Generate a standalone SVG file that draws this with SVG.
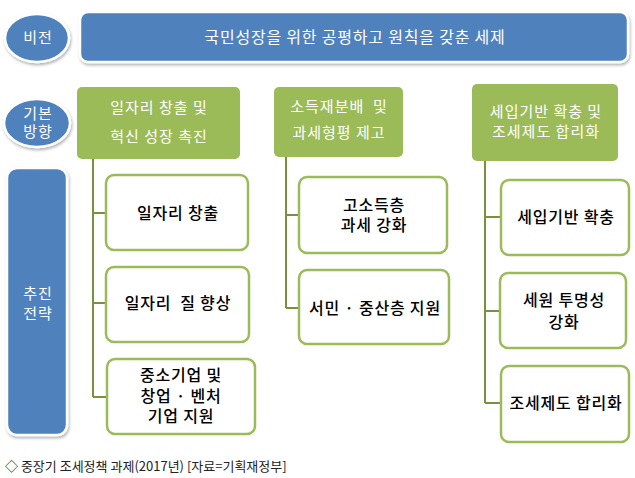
<svg xmlns="http://www.w3.org/2000/svg" width="635" height="478" viewBox="0 0 635 478">
<style>
text{font-family:"Noto Sans CJK KR","Noto Sans",sans-serif;text-anchor:middle}
.wt{fill:#fff;font-size:15px;letter-spacing:1px}
.bt{fill:#000;font-size:16px;font-weight:500;letter-spacing:0.8px}
.blue{fill:#4f81bd;stroke:#fff;stroke-width:2.5}
.green{fill:#9bbb59}
.box{fill:#fff;stroke:#9bbb59;stroke-width:2.5}
.ln{fill:none;stroke:#76923c;stroke-width:2}
</style>
<defs>
<filter id="sh" x="-10%" y="-10%" width="120%" height="130%">
<feDropShadow dx="1" dy="2" stdDeviation="1.5" flood-color="#000" flood-opacity="0.3"/>
</filter>
</defs>
<rect width="635" height="478" fill="#fff"/>
<g id="vision-label"><ellipse class="blue" cx="37" cy="38" rx="32" ry="24" filter="url(#sh)"/><text class="wt" x="38" y="43">비전</text></g>
<g id="vision"><rect class="blue" x="80" y="12" width="548" height="50" rx="8" filter="url(#sh)"/><text class="wt" x="355" y="43" style="font-size:16px;letter-spacing:0.8px">국민성장을 위한 공평하고 원칙을 갖춘 세제</text></g>
<g id="direction-label"><ellipse class="blue" cx="37" cy="123" rx="33" ry="24" filter="url(#sh)"/><text class="wt" x="38" y="119">기본</text><text class="wt" x="38" y="137">방향</text></g>
<g id="strategy-label"><rect class="blue" x="7" y="168" width="60" height="267" rx="10" filter="url(#sh)"/><text class="wt" x="38" y="299">추진</text><text class="wt" x="38" y="319">전략</text></g>
<g id="connectors">
<path class="ln" d="M93 159V397M93 213H106M93 303H106M93 397H107"/>
<path class="ln" d="M286 157V308M286 215H299M286 308H299"/>
<path class="ln" d="M485 161V403M485 217H501M485 311H500M485 403H501"/>
</g>
<g id="dir1"><rect class="green" x="77" y="87" width="163" height="72" rx="5"/><text class="wt" x="159" y="113">일자리 창출 및</text><text class="wt" x="159" y="142">혁신 성장 촉진</text></g>
<g id="dir2"><rect class="green" x="274" y="87" width="129" height="70" rx="5"/><text class="wt" x="339" y="112">소득재분배 &#160;및</text><text class="wt" x="339" y="138">과세형평 제고</text></g>
<g id="dir3"><rect class="green" x="472" y="84" width="146" height="77" rx="5"/><text class="wt" x="546" y="117">세입기반 확충 및</text><text class="wt" x="546" y="137">조세제도 합리화</text></g>
<g id="s1"><rect class="box" x="106" y="175" width="142" height="75" rx="8"/><text class="bt" x="178" y="219">일자리 창출</text></g>
<g id="s2"><rect class="box" x="106" y="267" width="143" height="75" rx="8"/><text class="bt" x="178" y="309">일자리 &#160;질 향상</text></g>
<g id="s3"><rect class="box" x="107" y="359" width="148" height="75" rx="8"/><text class="bt" x="181" y="381">중소기업 및</text><text class="bt" x="181" y="402">창업 · 벤처</text><text class="bt" x="181" y="422">기업 지원</text></g>
<g id="s4"><rect class="box" x="299" y="177" width="148" height="76" rx="8"/><text class="bt" x="374" y="211">고소득층</text><text class="bt" x="374" y="231">과세 강화</text></g>
<g id="s5"><rect class="box" x="299" y="270" width="150" height="74" rx="8"/><text class="bt" x="375" y="314">서민 · 중산층 지원</text></g>
<g id="s6"><rect class="box" x="501" y="180" width="128" height="75" rx="8"/><text class="bt" x="566" y="223">세입기반 확충</text></g>
<g id="s7"><rect class="box" x="500" y="273" width="126" height="75" rx="8"/><text class="bt" x="564" y="306">세원 투명성</text><text class="bt" x="564" y="328">강화</text></g>
<g id="s8"><rect class="box" x="501" y="366" width="128" height="76" rx="8"/><text class="bt" x="566" y="409">조세제도 합리화</text></g>
<text x="5" y="471" style="text-anchor:start;font-size:13px;fill:#222">◇ 중장기 조세정책 과제(2017년) [자료=기획재정부]</text>
</svg>
